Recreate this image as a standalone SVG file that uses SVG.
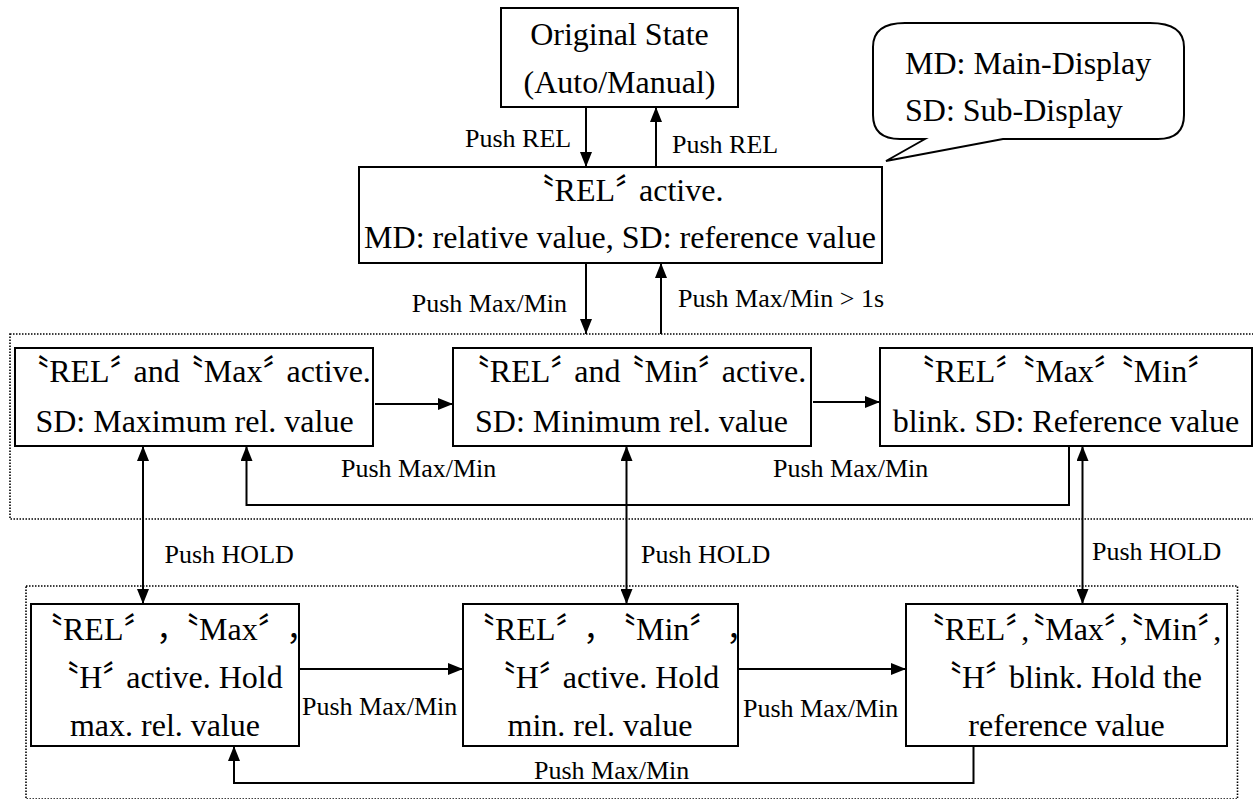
<svg xmlns="http://www.w3.org/2000/svg" width="1253" height="799" viewBox="0 0 1253 799">
<style>
text{font-family:"Liberation Serif","Noto Sans CJK JP",serif;fill:#000;font-feature-settings:"halt";}
.t{font-size:32px;text-anchor:middle;}
.ts{font-size:32px;}
.l{font-size:26px;}
.box{fill:#fff;stroke:#000;stroke-width:2;}
.frame{fill:none;stroke:#000;stroke-width:1.6;stroke-dasharray:1.5 1.5;}
.c{fill:none;stroke:#000;stroke-width:2;}
</style>
<defs>
<marker id="ah" viewBox="0 0 15 12" refX="15" refY="6" markerWidth="15" markerHeight="12" markerUnits="userSpaceOnUse" orient="auto-start-reverse"><path d="M0,0 L15,6 L0,12 z" fill="#000"/></marker>
</defs>
<g id="frames">
<rect class="frame" x="10" y="334" width="1260" height="185"/>
<rect class="frame" x="26" y="586" width="1211.5" height="213"/>
</g>
<g id="callout">
<path d="M925,139 L886,161 L1003,139 L1158,139 Q1184,139 1184,115 L1184,47 Q1184,23 1150,23 L905,23 Q873,23 873,47 L873,115 Q873,139 900,139 Z" fill="#fff" stroke="#000" stroke-width="2"/>
<text class="ts" x="905" y="74">MD: Main-Display</text>
<text class="ts" x="905" y="121">SD: Sub-Display</text>
</g>
<g id="original">
<rect class="box" x="501" y="8" width="237" height="99"/>
<text class="t" x="619.5" y="45">Original State</text>
<text class="t" x="619.5" y="93">(Auto/Manual)</text>
</g>
<g id="rel">
<rect class="box" x="359" y="167" width="523" height="96"/>
<text class="t" x="631" y="201">〝REL〞 active.</text>
<text class="t" x="620" y="248">MD: relative value, SD: reference value</text>
</g>
<g id="relmax">
<rect class="box" x="15" y="348" width="358" height="98"/>
<text class="t" x="202" y="382">〝REL〞 and 〝Max〞 active.</text>
<text class="t" x="194.5" y="432">SD: Maximum rel. value</text>
</g>
<g id="relmin">
<rect class="box" x="453" y="348" width="358" height="98"/>
<text class="t" x="640" y="382">〝REL〞 and 〝Min〞 active.</text>
<text class="t" x="631.5" y="432">SD: Minimum rel. value</text>
</g>
<g id="relblink">
<rect class="box" x="880" y="348" width="372" height="98"/>
<text class="t" x="1061" y="382">〝REL〞 〝Max〞 〝Min〞</text>
<text class="t" x="1066" y="432">blink. SD: Reference value</text>
</g>
<g id="holdmax">
<rect class="box" x="31" y="604" width="268" height="142"/>
<text class="ts" y="640"><tspan x="47">〝REL〞</tspan><tspan x="156">，</tspan><tspan x="183">〝Max〞</tspan><tspan x="286">，</tspan></text>
<text class="t" x="173" y="688">〝H〞 active. Hold</text>
<text class="t" x="165" y="736">max. rel. value</text>
</g>
<g id="holdmin">
<rect class="box" x="463" y="604" width="275" height="142"/>
<text class="ts" y="640"><tspan x="479">〝REL〞</tspan><tspan x="583">，</tspan><tspan x="620">〝Min〞</tspan><tspan x="726">，</tspan></text>
<text class="t" x="609.5" y="688">〝H〞 active. Hold</text>
<text class="t" x="600" y="736">min. rel. value</text>
</g>
<g id="holdblink">
<rect class="box" x="906" y="604" width="321" height="142"/>
<text class="t" x="1075" y="640">〝REL〞,〝Max〞,〝Min〞,</text>
<text class="t" x="1074" y="688">〝H〞 blink. Hold the</text>
<text class="t" x="1066.5" y="736">reference value</text>
</g>
<g id="connectors">
<path class="c" d="M586,107 V167" marker-end="url(#ah)"/>
<path class="c" d="M656,167 V107" marker-end="url(#ah)"/>
<path class="c" d="M586,263 V334" marker-end="url(#ah)"/>
<path class="c" d="M661,334 V263" marker-end="url(#ah)"/>
<path class="c" d="M375,404 H453" marker-end="url(#ah)"/>
<path class="c" d="M813,402 H880" marker-end="url(#ah)"/>
<path class="c" d="M1069,446 V505 H246.5 V446" marker-end="url(#ah)"/>
<path class="c" d="M143,446 V604" marker-start="url(#ah)" marker-end="url(#ah)"/>
<path class="c" d="M626.5,446 V604" marker-start="url(#ah)" marker-end="url(#ah)"/>
<path class="c" d="M1082.5,446 V604" marker-start="url(#ah)" marker-end="url(#ah)"/>
<path class="c" d="M299,669 H463" marker-end="url(#ah)"/>
<path class="c" d="M738,669 H906" marker-end="url(#ah)"/>
<path class="c" d="M973.5,746 V783 H234 V746" marker-end="url(#ah)"/>
<text class="l" x="465" y="147">Push REL</text>
<text class="l" x="672" y="153">Push REL</text>
<text class="l" x="567" y="312" text-anchor="end">Push Max/Min</text>
<text class="l" x="678" y="307">Push Max/Min &gt; 1s</text>
<text class="l" x="341" y="477">Push Max/Min</text>
<text class="l" x="773" y="477">Push Max/Min</text>
<text class="l" x="164.5" y="563">Push HOLD</text>
<text class="l" x="641" y="563">Push HOLD</text>
<text class="l" x="1092" y="560">Push HOLD</text>
<text class="l" x="302" y="715">Push Max/Min</text>
<text class="l" x="743" y="717">Push Max/Min</text>
<text class="l" x="534" y="779">Push Max/Min</text>
</g>
</svg>
